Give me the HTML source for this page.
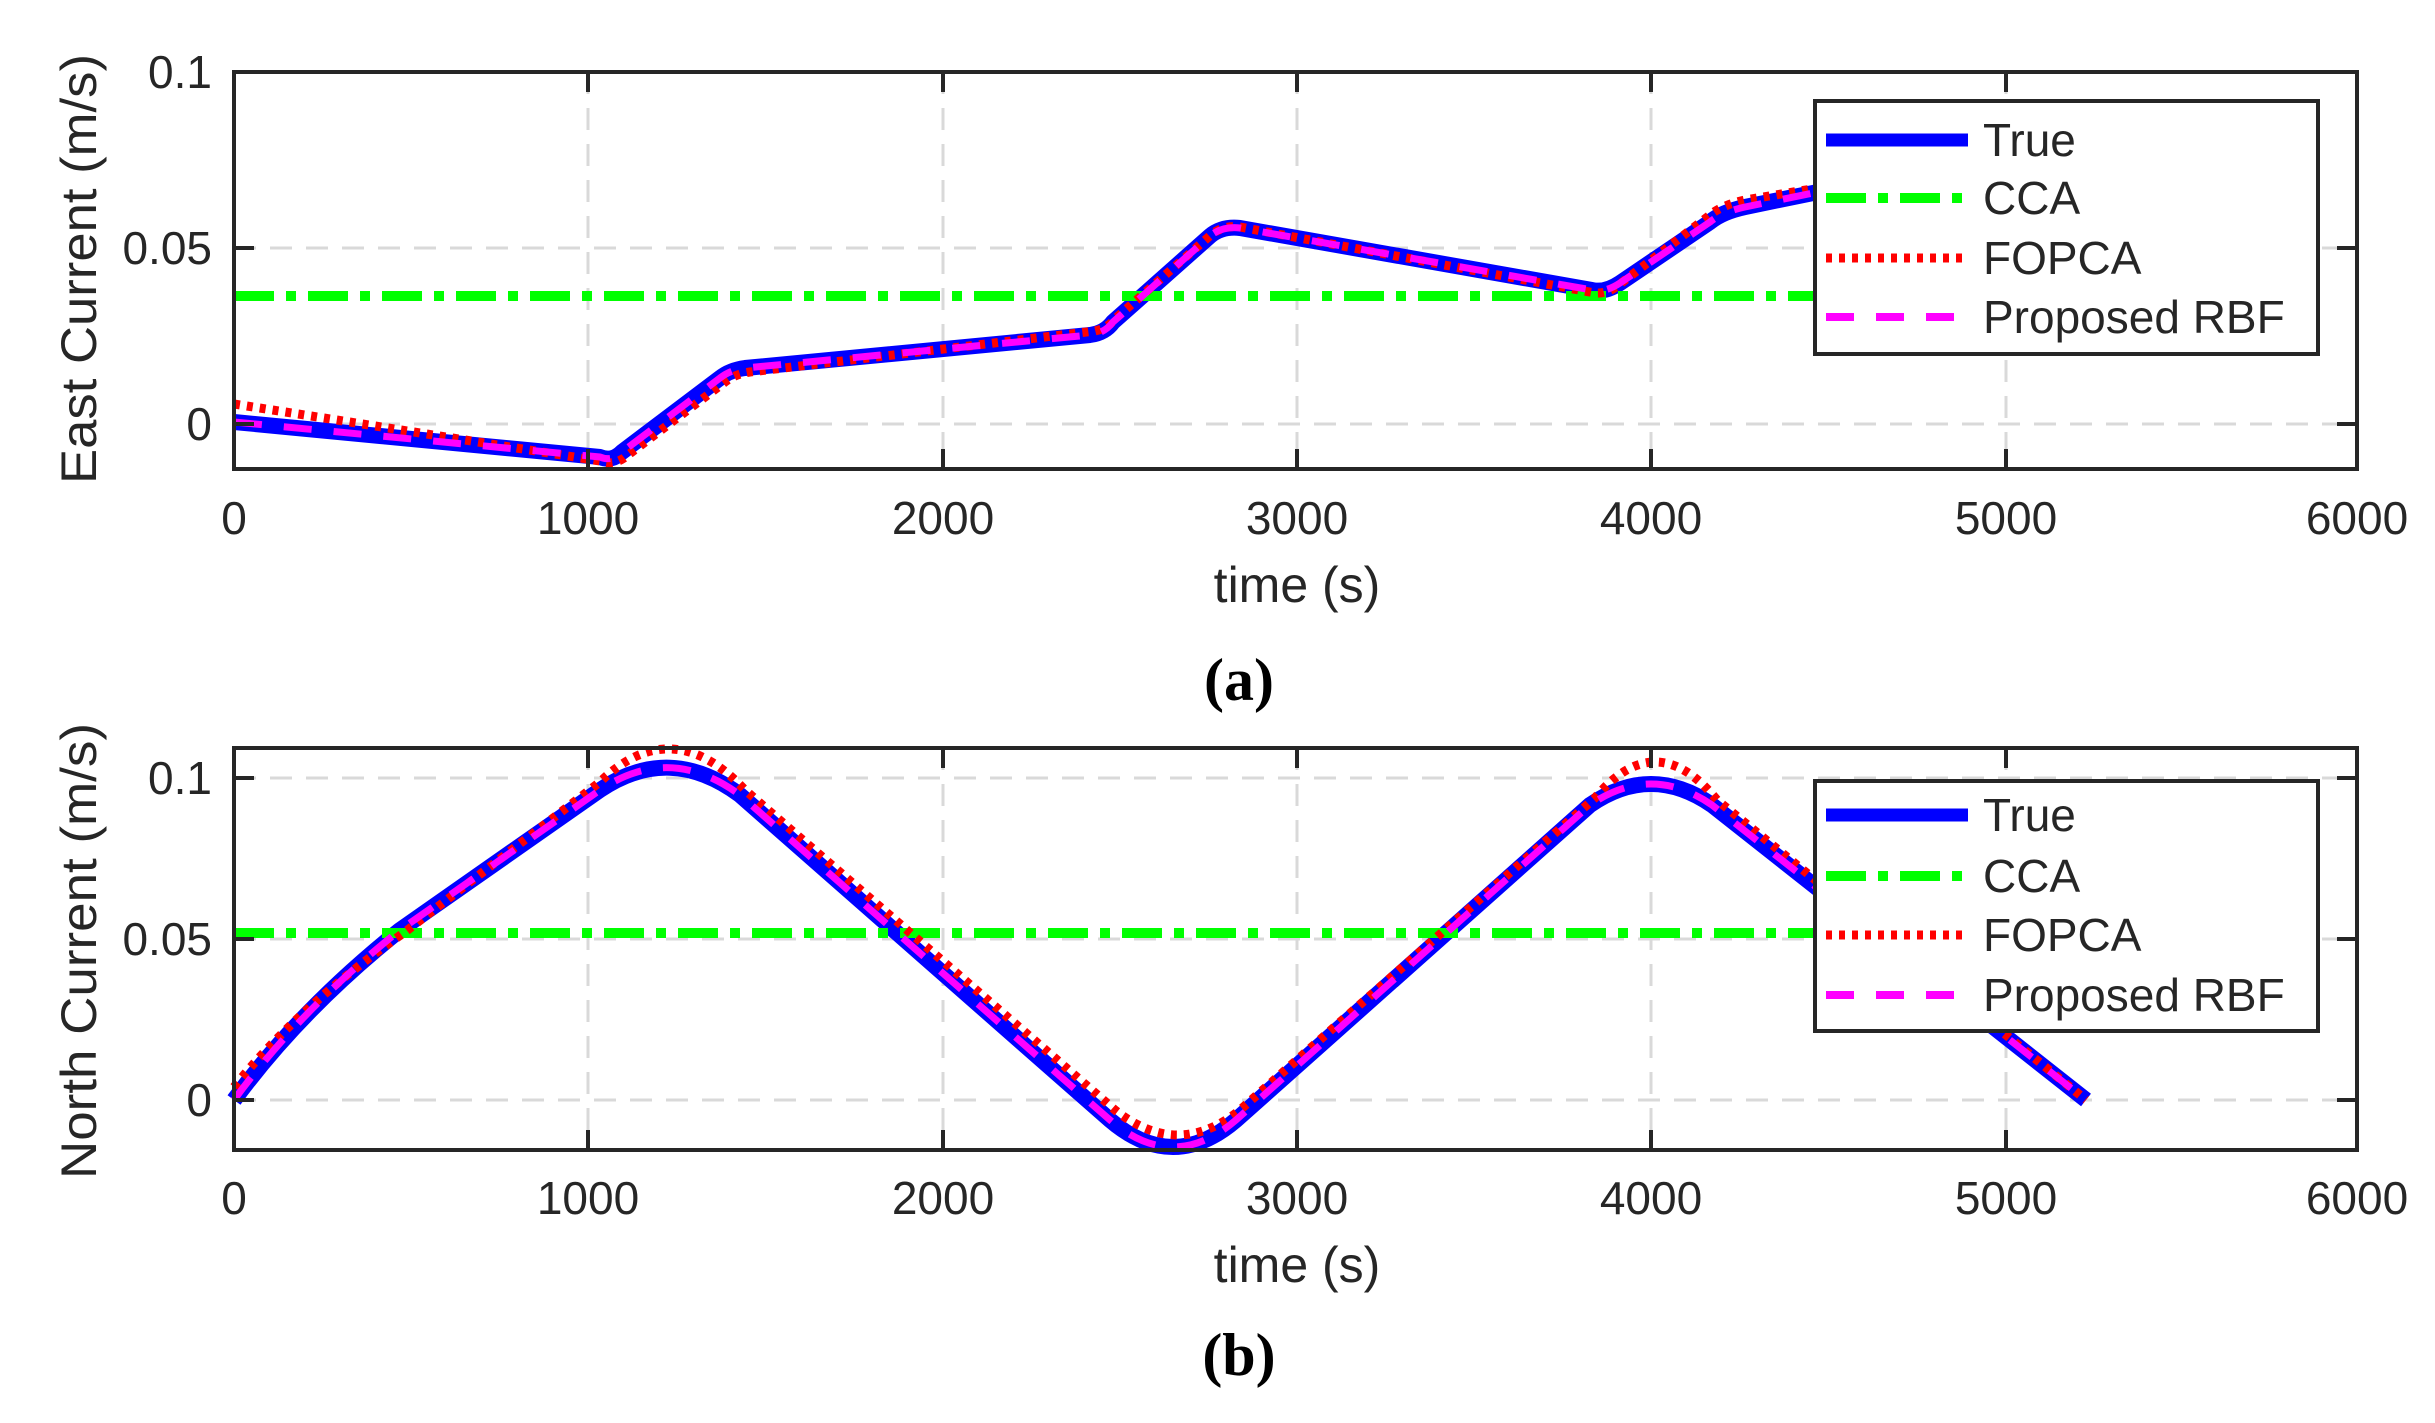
<!DOCTYPE html>
<html><head><meta charset="utf-8"><style>
html,body{margin:0;padding:0;background:#fff;}
svg{display:block}
text{font-family:"Liberation Sans",sans-serif;fill:#262626}
</style></head><body>
<svg width="2435" height="1423" viewBox="0 0 2435 1423" xmlns="http://www.w3.org/2000/svg">
<rect width="2435" height="1423" fill="#fff"/>
<!-- ================= Plot A ================= -->
<g stroke="#d9d9d9" stroke-width="3" stroke-dasharray="22,14" fill="none">
<line x1="588" y1="72" x2="588" y2="469"/><line x1="943" y1="72" x2="943" y2="469"/>
<line x1="1297" y1="72" x2="1297" y2="469"/><line x1="1651" y1="72" x2="1651" y2="469"/>
<line x1="2006" y1="72" x2="2006" y2="469"/>
<line x1="234" y1="248" x2="2357" y2="248"/><line x1="234" y1="424" x2="2357" y2="424"/>
</g>
<g fill="none" stroke-linejoin="round" stroke-linecap="butt">
<path d="M234,422 L600,457 Q612,462 622,452 L720,378 Q730,370 745,368 L1090,335 Q1105,333 1113,322 L1210,236 Q1222,226 1240,228 L1592,290 Q1605,293 1620,283 L1710,222 Q1722,212 1745,207 L1818,192" stroke="#0000ff" stroke-width="16"/>
<line x1="234" y1="296" x2="1818" y2="296" stroke="#00ff00" stroke-width="10" stroke-dasharray="40,12,10,12"/>
<path d="M234,404 L600,461 Q612,466 624,458 L725,382 Q735,374 750,372 L1095,331 Q1108,328 1116,318 L1212,234 Q1224,225 1240,227 L1595,293 Q1608,294 1620,284 L1710,215 Q1722,205 1745,200 L1818,188" stroke="#ff0000" stroke-width="9" stroke-dasharray="6,7"/>
<path d="M234,422 L600,457 Q612,462 622,452 L720,378 Q730,370 745,368 L1090,335 Q1105,333 1113,322 L1210,236 Q1222,226 1240,228 L1592,290 Q1605,293 1620,283 L1710,222 Q1722,212 1745,207 L1818,192" stroke="#ff00ff" stroke-width="7" stroke-dasharray="28,22"/>
</g>
<rect x="234" y="72" width="2123" height="397" fill="none" stroke="#262626" stroke-width="4"/>
<g stroke="#262626" stroke-width="4">
<line x1="588" y1="72" x2="588" y2="92"/><line x1="943" y1="72" x2="943" y2="92"/><line x1="1297" y1="72" x2="1297" y2="92"/><line x1="1651" y1="72" x2="1651" y2="92"/><line x1="2006" y1="72" x2="2006" y2="92"/>
<line x1="588" y1="469" x2="588" y2="449"/><line x1="943" y1="469" x2="943" y2="449"/><line x1="1297" y1="469" x2="1297" y2="449"/><line x1="1651" y1="469" x2="1651" y2="449"/><line x1="2006" y1="469" x2="2006" y2="449"/>
<line x1="234" y1="248" x2="254" y2="248"/><line x1="234" y1="424" x2="254" y2="424"/>
<line x1="2357" y1="248" x2="2337" y2="248"/><line x1="2357" y1="424" x2="2337" y2="424"/>
</g>
<g font-size="46" text-anchor="middle">
<text x="234" y="534">0</text><text x="588" y="534">1000</text><text x="943" y="534">2000</text><text x="1297" y="534">3000</text><text x="1651" y="534">4000</text><text x="2006" y="534">5000</text><text x="2357" y="534">6000</text>
</g>
<g font-size="46" text-anchor="end">
<text x="212" y="88">0.1</text><text x="212" y="264">0.05</text><text x="212" y="440">0</text>
</g>
<text x="1297" y="602" font-size="50" text-anchor="middle">time (s)</text>
<text transform="translate(96,269) rotate(-90)" font-size="50" text-anchor="middle" textLength="430" lengthAdjust="spacingAndGlyphs">East Current (m/s)</text>
<text x="1239" y="700" font-size="60" font-weight="bold" text-anchor="middle" style="font-family:'Liberation Serif',serif;fill:#000">(a)</text>
<!-- legend a -->
<rect x="1815" y="101" width="503" height="253" fill="#fff" stroke="#262626" stroke-width="4"/>
<line x1="1826" y1="140" x2="1968" y2="140" stroke="#0000ff" stroke-width="13"/>
<line x1="1826" y1="198" x2="1968" y2="198" stroke="#00ff00" stroke-width="10" stroke-dasharray="40,12,10,12"/>
<line x1="1826" y1="258" x2="1968" y2="258" stroke="#ff0000" stroke-width="9" stroke-dasharray="6,7"/>
<line x1="1826" y1="317" x2="1968" y2="317" stroke="#ff00ff" stroke-width="8" stroke-dasharray="28,22"/>
<g font-size="46"><text x="1983" y="156">True</text><text x="1983" y="214">CCA</text><text x="1983" y="274">FOPCA</text><text x="1983" y="333">Proposed RBF</text></g>

<!-- ================= Plot B ================= -->
<g stroke="#d9d9d9" stroke-width="3" stroke-dasharray="22,14" fill="none">
<line x1="588" y1="748" x2="588" y2="1150"/><line x1="943" y1="748" x2="943" y2="1150"/>
<line x1="1297" y1="748" x2="1297" y2="1150"/><line x1="1651" y1="748" x2="1651" y2="1150"/>
<line x1="2006" y1="748" x2="2006" y2="1150"/>
<line x1="234" y1="778" x2="2357" y2="778"/><line x1="234" y1="939" x2="2357" y2="939"/><line x1="234" y1="1100" x2="2357" y2="1100"/>
</g>
<g fill="none" stroke-linejoin="round">
<path d="M234,1100 Q300,1010 400,930 L600,790 Q670,743 740,795 L1110,1120 Q1173,1174 1236,1120 L1590,805 Q1651,763 1712,805 L2086,1100" stroke="#0000ff" stroke-width="16"/>
<line x1="234" y1="933" x2="1815" y2="933" stroke="#00ff00" stroke-width="10" stroke-dasharray="40,12,10,12"/>
<path d="M234,1087 Q300,1005 405,932 L600,782 Q672,712 745,790 L1115,1110 Q1178,1160 1240,1110 L1595,798 Q1656,725 1717,800 L2086,1100" stroke="#ff0000" stroke-width="9" stroke-dasharray="6,7"/>
<path d="M234,1100 Q300,1010 400,930 L600,790 Q670,743 740,795 L1110,1120 Q1173,1174 1236,1120 L1590,805 Q1651,763 1712,805 L2086,1100" stroke="#ff00ff" stroke-width="7" stroke-dasharray="28,22"/>
</g>
<rect x="234" y="748" width="2123" height="402" fill="none" stroke="#262626" stroke-width="4"/>
<g stroke="#262626" stroke-width="4">
<line x1="588" y1="748" x2="588" y2="768"/><line x1="943" y1="748" x2="943" y2="768"/><line x1="1297" y1="748" x2="1297" y2="768"/><line x1="1651" y1="748" x2="1651" y2="768"/><line x1="2006" y1="748" x2="2006" y2="768"/>
<line x1="588" y1="1150" x2="588" y2="1130"/><line x1="943" y1="1150" x2="943" y2="1130"/><line x1="1297" y1="1150" x2="1297" y2="1130"/><line x1="1651" y1="1150" x2="1651" y2="1130"/><line x1="2006" y1="1150" x2="2006" y2="1130"/>
<line x1="234" y1="778" x2="254" y2="778"/><line x1="234" y1="939" x2="254" y2="939"/><line x1="234" y1="1100" x2="254" y2="1100"/>
<line x1="2357" y1="778" x2="2337" y2="778"/><line x1="2357" y1="939" x2="2337" y2="939"/><line x1="2357" y1="1100" x2="2337" y2="1100"/>
</g>
<g font-size="46" text-anchor="middle">
<text x="234" y="1214">0</text><text x="588" y="1214">1000</text><text x="943" y="1214">2000</text><text x="1297" y="1214">3000</text><text x="1651" y="1214">4000</text><text x="2006" y="1214">5000</text><text x="2357" y="1214">6000</text>
</g>
<g font-size="46" text-anchor="end">
<text x="212" y="794">0.1</text><text x="212" y="955">0.05</text><text x="212" y="1116">0</text>
</g>
<text x="1297" y="1282" font-size="50" text-anchor="middle">time (s)</text>
<text transform="translate(96,951) rotate(-90)" font-size="50" text-anchor="middle" textLength="456" lengthAdjust="spacingAndGlyphs">North Current (m/s)</text>
<text x="1239" y="1375" font-size="60" font-weight="bold" text-anchor="middle" style="font-family:'Liberation Serif',serif;fill:#000">(b)</text>
<!-- legend b -->
<rect x="1815" y="781" width="503" height="250" fill="#fff" stroke="#262626" stroke-width="4"/>
<line x1="1826" y1="815" x2="1968" y2="815" stroke="#0000ff" stroke-width="13"/>
<line x1="1826" y1="876" x2="1968" y2="876" stroke="#00ff00" stroke-width="10" stroke-dasharray="40,12,10,12"/>
<line x1="1826" y1="935" x2="1968" y2="935" stroke="#ff0000" stroke-width="9" stroke-dasharray="6,7"/>
<line x1="1826" y1="995" x2="1968" y2="995" stroke="#ff00ff" stroke-width="8" stroke-dasharray="28,22"/>
<g font-size="46"><text x="1983" y="831">True</text><text x="1983" y="892">CCA</text><text x="1983" y="951">FOPCA</text><text x="1983" y="1011">Proposed RBF</text></g>
</svg>
</body></html>
